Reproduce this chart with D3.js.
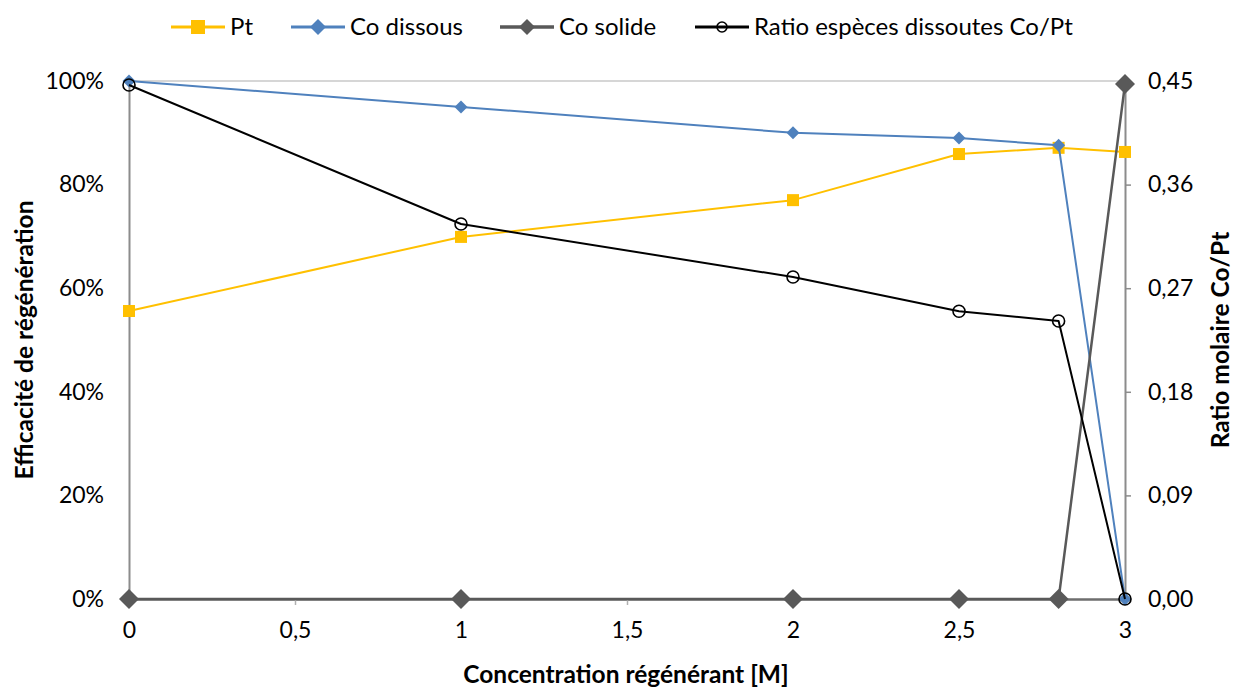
<!DOCTYPE html>
<html><head><meta charset="utf-8">
<script src="https://cdn.jsdelivr.net/npm/d3@7"></script>
<style>body{margin:0;background:#fff}svg{display:block;font-family:Lato,"Open Sans",sans-serif}</style>
</head><body><svg id="c" width="1233" height="688"></svg>
<script>
const concentrations = [0, 1, 2, 2.5, 2.8, 3];
const ptValues = [55.6, 69.9, 77.0, 85.9, 87.1, 86.3];
const coDissousValues = [100, 95.0, 90.0, 89.0, 87.6, 0];
const coSolideValues = [0, 0, 0, 0, 0, 99.4];
const ratioValues = [0.4465, 0.3258, 0.2797, 0.250, 0.2415, 0];
const xTicks = [0, 0.5, 1, 1.5, 2, 2.5, 3];
const leftTicks = [0, 20, 40, 60, 80, 100];
const rightTicks = [0, 0.09, 0.18, 0.27, 0.36, 0.45];
const seriesNames = ["Pt", "Co dissous", "Co solide", "Ratio espèces dissoutes Co/Pt"];

const svg = d3.select("#c");
const L = 129, R = 1125, T = 81, B = 599;
const TICK_FS = 23, TITLE_FS = 24.5, LEG_FS = 24;
const x = d3.scaleLinear().domain([0, 3]).range([L, R]);
const yL = d3.scaleLinear().domain([0, 100]).range([B, T]);
const yR = d3.scaleLinear().domain([0, 0.45]).range([B, T]);
const fmt = d => String(d).replace(".", ",");

// top gridline
svg.append("line").attr("x1", L).attr("x2", R).attr("y1", yL(100)).attr("y2", yL(100)).attr("stroke", "#c8c8c8").attr("stroke-width", 1.5);

// left axis
const gL = svg.append("g").attr("transform", `translate(${L},0)`).call(d3.axisLeft(yL).tickValues(leftTicks).tickSize(0).tickPadding(25).tickFormat(d => d + "%"));
gL.select(".domain").attr("stroke", "#8c8c8c").attr("stroke-width", 2);
gL.selectAll("text").attr("font-size", TICK_FS).attr("fill", "#000").attr("font-family", "Lato");

// right axis
const gR = svg.append("g").attr("transform", `translate(${R},0)`).call(d3.axisRight(yR).tickValues(rightTicks).tickSize(6).tickPadding(17).tickFormat(d => d3.format(".2f")(d).replace(".", ",")));
gR.select(".domain").attr("stroke", "#8c8c8c").attr("stroke-width", 2);
gR.selectAll(".tick line").attr("stroke", "#8c8c8c").attr("stroke-width", 1.5);
gR.selectAll("text").attr("font-size", TICK_FS).attr("fill", "#000").attr("font-family", "Lato");

// bottom axis
const gB = svg.append("g").attr("transform", `translate(0,${B})`).call(d3.axisBottom(x).tickValues(xTicks).tickSize(6).tickPadding(17).tickFormat(fmt));
gB.select(".domain").attr("stroke", "#6e6e6e").attr("stroke-width", 2.5);
gB.selectAll(".tick line").attr("stroke", "#b0b0b0").attr("stroke-width", 1.5);
gB.selectAll("text").attr("font-size", TICK_FS).attr("fill", "#000").attr("font-family", "Lato");

// axis titles
svg.append("text").attr("x", 626).attr("y", 683).attr("text-anchor", "middle").attr("font-weight", "bold").attr("font-size", TITLE_FS).text("Concentration régénérant [M]");
svg.append("text").attr("transform", `translate(33,${340}) rotate(-90)`).attr("text-anchor", "middle").attr("font-weight", "bold").attr("font-size", TITLE_FS).text("Efficacité de régénération");
svg.append("text").attr("transform", `translate(1229,${340}) rotate(-90)`).attr("text-anchor", "middle").attr("font-weight", "bold").attr("font-size", TITLE_FS).text("Ratio molaire Co/Pt");

const series = [
  {name: seriesNames[0], vals: ptValues, y: yL, color: "#FFC000", width: 2, marker: "square", size: 12},
  {name: seriesNames[1], vals: coDissousValues, y: yL, color: "#4F81BD", width: 2, marker: "diamond", size: 13},
  {name: seriesNames[2], vals: coSolideValues, y: yL, color: "#595959", width: 2.5, marker: "diamond", size: 20},
  {name: seriesNames[3], vals: ratioValues, y: yR, color: "#000000", width: 2, marker: "circle", size: 6}
];

function drawMarker(g, s, cx, cy) {
  if (s.marker === "square") {
    g.append("rect").attr("x", cx - s.size / 2).attr("y", cy - s.size / 2).attr("width", s.size).attr("height", s.size).attr("fill", s.color);
  } else if (s.marker === "diamond") {
    const h = s.size / 2;
    g.append("path").attr("d", `M${cx},${cy - h}L${cx + h},${cy}L${cx},${cy + h}L${cx - h},${cy}Z`).attr("fill", s.color);
  } else {
    g.append("circle").attr("cx", cx).attr("cy", cy).attr("r", s.size).attr("fill", "none").attr("stroke", s.color).attr("stroke-width", 1.6);
  }
}

series.forEach(s => {
  const line = d3.line().x((d, i) => x(concentrations[i])).y(d => s.y(d));
  const g = svg.append("g");
  g.append("path").datum(s.vals).attr("d", line).attr("fill", "none").attr("stroke", s.color).attr("stroke-width", s.width).attr("stroke-linejoin", "round");
  s.vals.forEach((v, i) => drawMarker(g, s, x(concentrations[i]), s.y(v)));
});

// legend
const legendX = [198, 318, 527, 722];
series.forEach((s, i) => {
  const g = svg.append("g");
  const cx = legendX[i], cy = 27;
  g.append("line").attr("x1", cx - 27).attr("x2", cx + 27).attr("y1", cy).attr("y2", cy).attr("stroke", s.color).attr("stroke-width", s.width + 1);
  const ls = Object.assign({}, s, {size: s.marker === "circle" ? 5 : (s.marker === "square" ? 14 : 16)});
  drawMarker(g, ls, cx, cy);
  g.append("text").attr("x", cx + 32).attr("y", cy + 8).attr("font-size", LEG_FS).text(s.name);
});
</script></body></html>
